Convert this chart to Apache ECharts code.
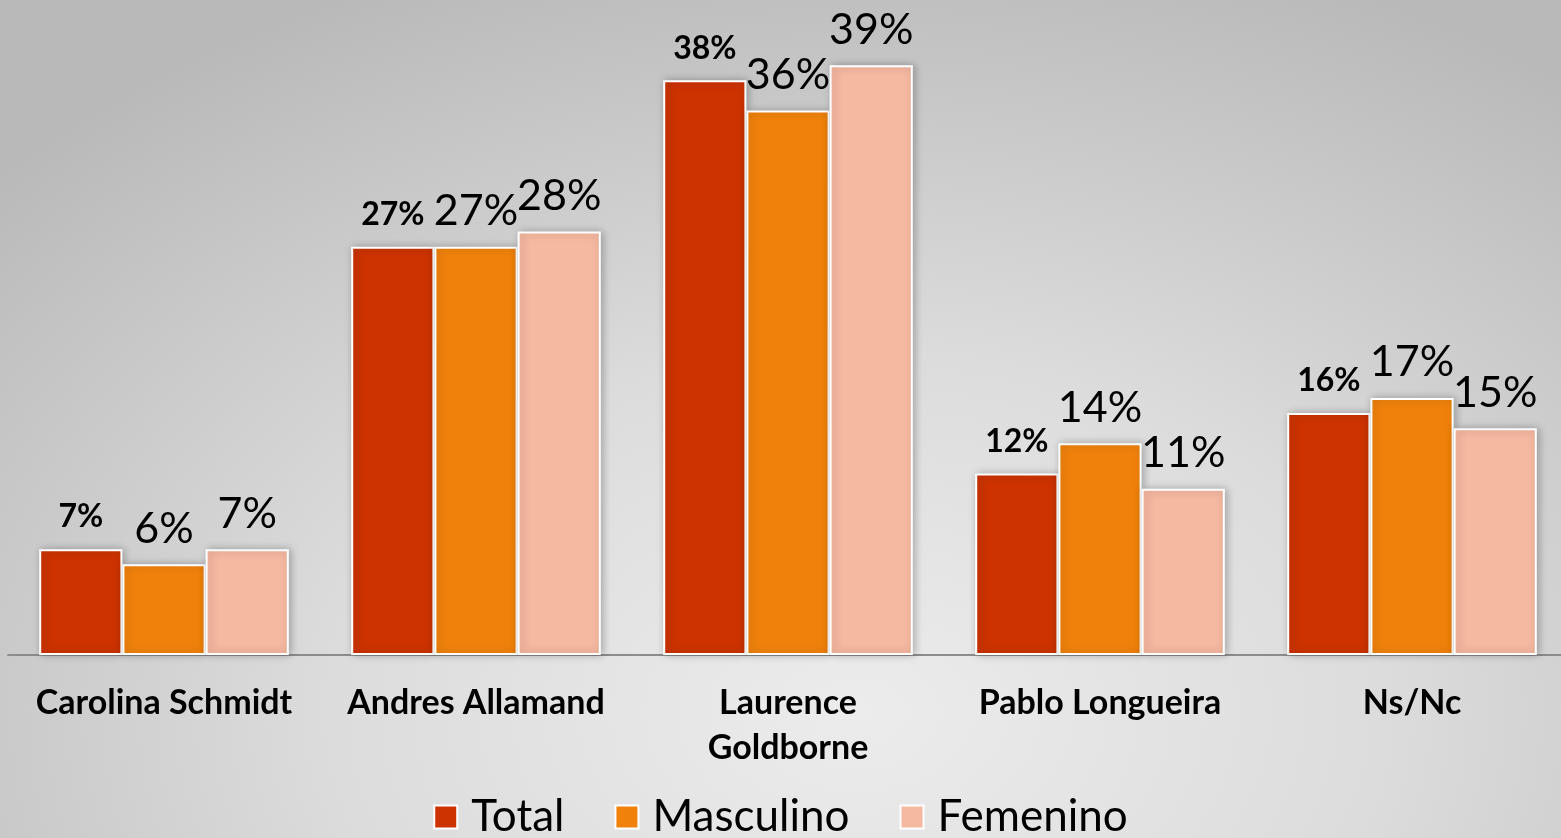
<!DOCTYPE html>
<html>
<head>
<meta charset="utf-8">
<script src="https://cdn.jsdelivr.net/npm/echarts@6/dist/echarts.min.js"></script>
<style>
  html, body { margin: 0; padding: 0; }
  body {
    width: 1561px; height: 838px;
    background: radial-gradient(ellipse 75% 95% at 55% 85%, #ececec 0%, #dcdcdc 45%, #b9b9b9 100%);
  }
  #chart { width: 1561px; height: 838px; }
</style>
</head>
<body>
<div id="chart"></div>
<script>
const categories = ['Carolina Schmidt', 'Andres Allamand', 'Laurence\nGoldborne', 'Pablo Longueira', 'Ns/Nc']
const seriesNames = ['Total', 'Masculino', 'Femenino']
const total = [7, 27, 38, 12, 16]
const masculino = [6, 27, 36, 14, 17]
const femenino = [7, 28, 39, 11, 15]

const colors = ['#cc3300', '#f0820c', '#f5b8a0']
const font = 'Lato, "Open Sans", sans-serif'

const chart = echarts.init(document.getElementById('chart'), null, { renderer: 'canvas' })

const makeSeries = (name, data, color, bold) => ({
  name,
  type: 'bar',
  data,
  barGap: '0%',
  barCategoryGap: '20%',
  itemStyle: {
    color,
    borderColor: '#ffffff',
    borderWidth: 2,
    shadowBlur: 8,
    shadowColor: 'rgba(0,0,0,0.25)',
    shadowOffsetX: 2,
    shadowOffsetY: 0
  },
  label: {
    show: true,
    position: 'top',
    distance: bold ? 16 : 14,
    formatter: '{c}%',
    color: '#000',
    fontFamily: font,
    fontWeight: bold ? 'bold' : 'normal',
    fontSize: bold ? 32 : 43
  }
})

chart.setOption({
  backgroundColor: 'transparent',
  animation: false,
  grid: { left: 8, width: 1560, top: 50, bottom: 183, containLabel: false, outerBoundsMode: 'none' },
  legend: {
    bottom: -6,
    left: 'center',
    itemWidth: 23,
    itemHeight: 23,
    itemGap: 50,
    icon: 'rect',
    itemStyle: { borderColor: '#fff', borderWidth: 2 },
    textStyle: { fontFamily: font, fontSize: 44, color: '#000', padding: [0, 0, 0, 9] },
    data: seriesNames
  },
  xAxis: {
    type: 'category',
    data: categories,
    axisLine: { lineStyle: { color: '#8c8c8c', width: 2 } },
    axisTick: { show: false },
    axisLabel: {
      margin: 26,
      interval: 0,
      color: '#000',
      fontFamily: font,
      fontWeight: 'bold',
      fontSize: 34,
      lineHeight: 45
    }
  },
  yAxis: {
    type: 'value',
    min: 0,
    max: 40,
    show: false,
    splitLine: { show: false }
  },
  series: [
    makeSeries(seriesNames[0], total, colors[0], true),
    makeSeries(seriesNames[1], masculino, colors[1], false),
    makeSeries(seriesNames[2], femenino, colors[2], false)
  ]
})
</script>
</body>
</html>
